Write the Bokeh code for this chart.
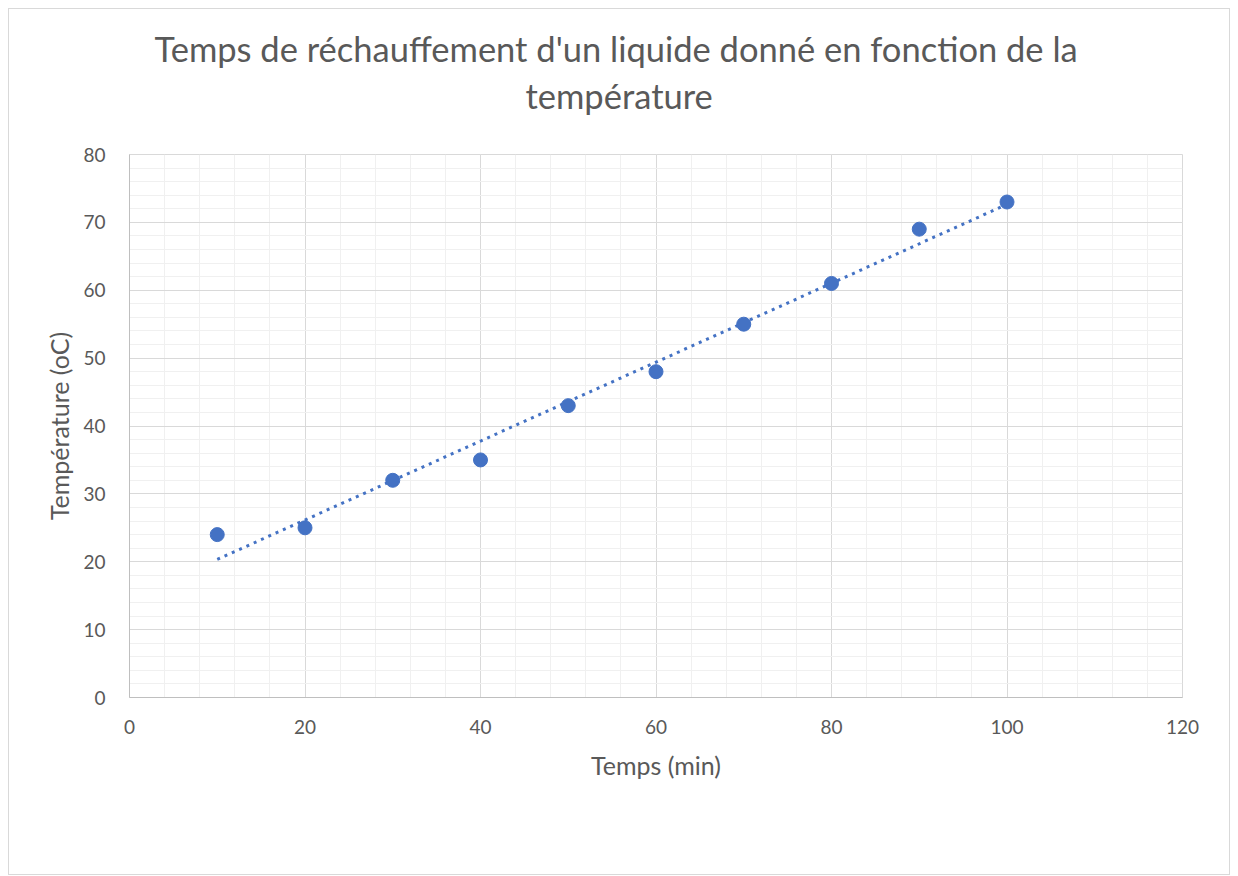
import numpy as np
from bokeh.plotting import figure
from bokeh.models import ColumnDataSource, SingleIntervalTicker, Range1d, Title
from bokeh.embed import file_html
from bokeh.resources import INLINE

# data
temps_min = [10, 20, 30, 40, 50, 60, 70, 80, 90, 100]
temperature = [24, 25, 32, 35, 43, 48, 55, 61, 69, 73]
title_lines = ["Temps de réchauffement d'un liquide donné en fonction de la", "température"]
x_label = "Temps (min)"
y_label = "Température (oC)"

FONT = "Lato"
GREY = "#595959"
BLUE = "#4472C4"

p = figure(
    output_backend="svg", toolbar_location=None,
    frame_width=1053, frame_height=543,
    min_border_left=120, min_border_right=47, min_border_top=145, min_border_bottom=177,
    x_range=Range1d(0, 120), y_range=Range1d(0, 80),
    title=None,
)
p.styles = {"border": "1px solid #d9d9d9", "margin-left": "8px", "margin-top": "8px"}

# title lines: the one added first sits closest to the frame
p.add_layout(Title(text=title_lines[1], align="left", offset=396, text_font=FONT,
                   text_font_size="34.5px", text_color=GREY, text_font_style="normal",
                   standoff=78), "above")
p.add_layout(Title(text=title_lines[0], align="left", offset=25, text_font=FONT,
                   text_font_size="34.5px", text_color=GREY, text_font_style="normal",
                   standoff=-70), "above")

p.xaxis.ticker = SingleIntervalTicker(interval=20, num_minor_ticks=5)
p.yaxis.ticker = SingleIntervalTicker(interval=10, num_minor_ticks=5)

for ax in (p.xaxis, p.yaxis):
    ax.axis_line_color = "#bfbfbf"
    ax.major_tick_line_color = None
    ax.minor_tick_line_color = None
    ax.major_label_text_font = FONT
    ax.major_label_text_font_size = "19px"
    ax.major_label_text_color = GREY
    ax.axis_label_text_font = FONT
    ax.axis_label_text_font_size = "25px"
    ax.axis_label_text_color = GREY
    ax.axis_label_text_font_style = "normal"

p.xaxis.major_label_standoff = 16
p.yaxis.major_label_standoff = 18
p.xaxis.axis_label = x_label
p.yaxis.axis_label = y_label
p.xaxis.axis_label_standoff = 13
p.yaxis.axis_label_standoff = 6

for g in (p.xgrid, p.ygrid):
    g.grid_line_color = "#d9d9d9"
    g.minor_grid_line_color = "#f0f0f0"
    g.minor_grid_line_width = 1

p.outline_line_color = "#d9d9d9"
p.background_fill_color = "white"
p.border_fill_color = "white"

# linear trendline derived from the data
slope, intercept = np.polyfit(temps_min, temperature, 1)
tx = [min(temps_min), max(temps_min)]
ty = [slope * v + intercept for v in tx]
p.line(tx, ty, line_color=BLUE, line_width=3, line_dash="3 5")

src = ColumnDataSource(dict(x=temps_min, y=temperature))
p.scatter("x", "y", source=src, size=14, fill_color=BLUE, line_color=BLUE)

open("out.html", "w").write(file_html(p, INLINE))
